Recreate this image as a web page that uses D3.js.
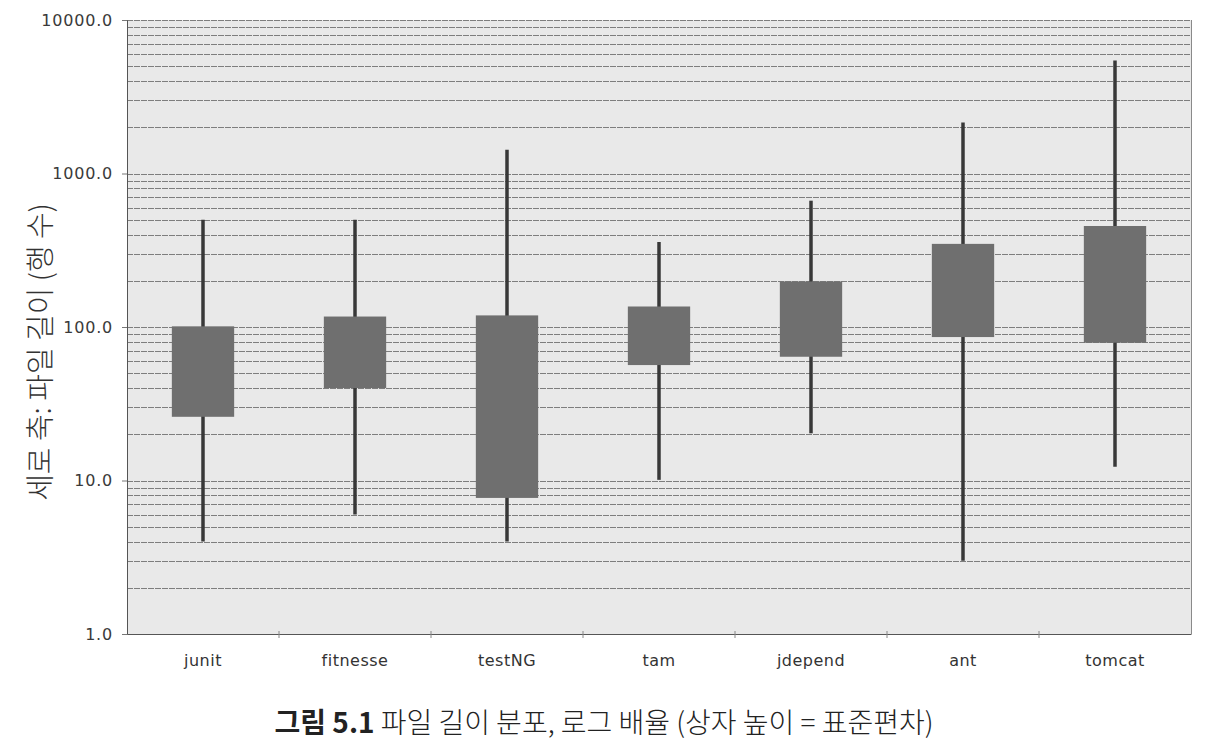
<!DOCTYPE html>
<html>
<head>
<meta charset="utf-8">
<script src="https://cdn.jsdelivr.net/npm/d3@7"></script>
<style>
  body { margin: 0; background: #fff; }
  svg { display: block; }
</style>
</head>
<body>
<div id="chart"></div>
<script>
// file length per project, log scale (box height = std dev)
var categories = ["junit", "fitnesse", "testNG", "tam", "jdepend", "ant", "tomcat"];
var whiskerHigh = [500, 500, 1430, 358, 665, 2150, 5450];
var boxHigh = [101, 117, 119, 136, 198, 348, 455];
var boxLow = [26, 40, 7.7, 56.5, 64, 86, 79];
var whiskerLow = [4.0, 6.0, 4.0, 10.1, 20.3, 3.0, 12.3];
var yTicks = [1, 10, 100, 1000, 10000];

var width = 1210, height = 753;
var plotL = 127, plotR = 1191, plotT = 20, plotB = 634;

var svg = d3.select("#chart")
    .append("svg")
    .attr("width", width)
    .attr("height", height);

var x = d3.scaleBand()
    .domain(categories)
    .range([plotL, plotR]);

var y = d3.scaleLog()
    .domain([1, 10000])
    .range([plotB, plotT]);

// plot background
svg.append("rect")
    .attr("x", plotL)
    .attr("y", plotT)
    .attr("width", plotR - plotL)
    .attr("height", plotB - plotT)
    .attr("fill", "#e9e9e9");

// minor + major grid lines
var gridVals = [];
for (var d = 1; d < 10000; d *= 10) {
    for (var k = 1; k < 10; k++) gridVals.push(d * k);
}
gridVals.push(10000);

svg.append("g")
    .selectAll("line")
    .data(gridVals.filter(function(v) { return v > 1; }))
    .enter()
    .append("line")
    .attr("x1", plotL)
    .attr("x2", plotR)
    .attr("y1", function(v) { return Math.round(y(v)) + 0.5; })
    .attr("y2", function(v) { return Math.round(y(v)) + 0.5; })
    .attr("stroke", "#7e7e7e")
    .attr("stroke-width", 1)
    .attr("stroke-dasharray", "6,1");

// right border
svg.append("line")
    .attr("x1", plotR + 0.5).attr("x2", plotR + 0.5)
    .attr("y1", plotT).attr("y2", plotB)
    .attr("stroke", "#8a8a8a");

// y axis
var yAxis = d3.axisLeft(y)
    .tickValues(yTicks)
    .tickFormat(d3.format(".1f"))
    .tickSize(5)
    .tickPadding(9);

var gy = svg.append("g")
    .attr("transform", "translate(" + plotL + ",0)")
    .call(yAxis);
gy.select(".domain").attr("stroke", "#555");
gy.selectAll(".tick line").attr("stroke", "#777");
gy.selectAll("text")
    .attr("font-family", "DejaVu Sans, Verdana, sans-serif")
    .attr("font-size", "16px")
    .attr("letter-spacing", "0.8px")
    .attr("fill", "#3a3a3a");

// x axis, ticks sit between categories
var gx = svg.append("g")
    .attr("transform", "translate(0," + plotB + ")")
    .call(d3.axisBottom(x).tickSize(0).tickPadding(21));
gx.select(".domain").attr("stroke", "#555");
gx.selectAll("text")
    .attr("font-family", "DejaVu Sans, Verdana, sans-serif")
    .attr("font-size", "16px")
    .attr("letter-spacing", "0.5px")
    .attr("fill", "#333");

gx.selectAll(".sep")
    .data(categories.slice(1))
    .enter()
    .append("line")
    .attr("class", "sep")
    .attr("x1", function(c) { return x(c); })
    .attr("x2", function(c) { return x(c); })
    .attr("y1", -3)
    .attr("y2", 4)
    .attr("stroke", "#888");

// whiskers
var boxW = x.bandwidth() * 0.41;

svg.append("g")
    .selectAll("line")
    .data(categories)
    .enter()
    .append("line")
    .attr("x1", function(c) { return x(c) + x.bandwidth() / 2; })
    .attr("x2", function(c) { return x(c) + x.bandwidth() / 2; })
    .attr("y1", function(c, i) { return y(whiskerHigh[i]); })
    .attr("y2", function(c, i) { return y(whiskerLow[i]); })
    .attr("stroke", "#383838")
    .attr("stroke-width", 3.5);

// boxes
svg.append("g")
    .selectAll("rect")
    .data(categories)
    .enter()
    .append("rect")
    .attr("x", function(c) { return x(c) + (x.bandwidth() - boxW) / 2; })
    .attr("y", function(c, i) { return y(boxHigh[i]); })
    .attr("width", boxW)
    .attr("height", function(c, i) { return y(boxLow[i]) - y(boxHigh[i]); })
    .attr("fill", "#6f6f6f");

// y axis title
svg.append("text")
    .attr("transform", "translate(51," + 352 + ") rotate(-90)")
    .attr("text-anchor", "middle")
    .attr("font-family", "Noto Sans CJK KR, sans-serif")
    .attr("font-size", "29px")
    .attr("font-weight", 300)
    .attr("fill", "#333")
    .text("세로 축: 파일 길이 (행 수)");

// caption
var cap = svg.append("text")
    .attr("x", 604)
    .attr("y", 733)
    .attr("text-anchor", "middle")
    .attr("font-family", "Noto Sans CJK KR, sans-serif")
    .attr("font-size", "28px")
    .attr("fill", "#222");

cap.append("tspan")
    .attr("font-weight", "bold")
    .text("그림 5.1");

cap.append("tspan")
    .attr("font-weight", 300)
    .text(" 파일 길이 분포, 로그 배율 (상자 높이 = 표준편차)");
</script>
</body>
</html>
